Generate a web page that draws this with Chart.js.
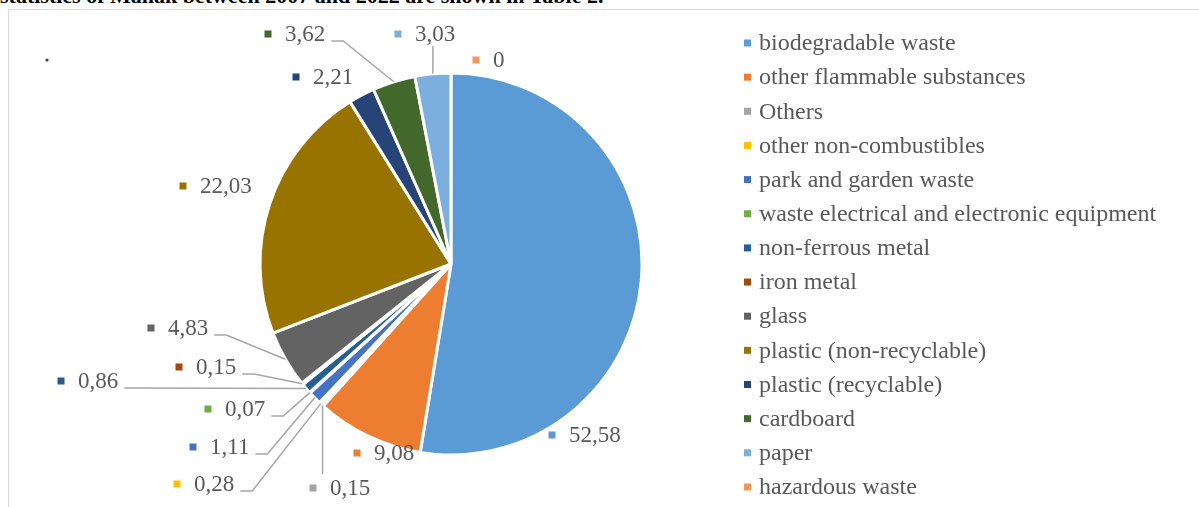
<!DOCTYPE html>
<html>
<head>
<meta charset="utf-8">
<title>Waste composition</title>
<script src="https://cdn.jsdelivr.net/npm/chart.js@4.4.1/dist/chart.umd.min.js"></script>
<style>
    html, body { margin: 0; padding: 0; background: #fff; overflow: hidden; }
    #wrap { position: relative; width: 1199px; height: 507px; overflow: hidden; }
    #caption { position: absolute; left: 0; top: -15px; font: bold 22px/22px "Liberation Serif", serif; color: #000; white-space: nowrap; }
    #frame { position: absolute; left: 8px; top: 8.5px; width: 1200px; height: 510px; border: 1.5px solid #d9d9d9; }
    #chart { position: absolute; left: 0; top: 0; }
</style>
</head>
<body>
<div id="wrap">
    <div id="caption">statistics of Manak between 2007 and 2022 are shown in Table 2.</div>
    <div id="frame"></div>
    <canvas id="chart" width="1199" height="507"></canvas>
</div>
<script>
// categorias de residuos (en el orden de las porciones, sentido horario desde arriba)
const categories = [
    "biodegradable waste",
    "other flammable substances",
    "Others",
    "other non-combustibles",
    "park and garden waste",
    "waste electrical and electronic equipment",
    "non-ferrous metal",
    "iron metal",
    "glass",
    "plastic (non-recyclable)",
    "plastic (recyclable)",
    "cardboard",
    "paper",
    "hazardous waste"
];

// porcentaje de cada categoria
const shares = [52.58, 9.08, 0.15, 0.28, 1.11, 0.07, 0.86, 0.15, 4.83, 22.03, 2.21, 3.62, 3.03, 0];

const sliceColors = [
    "#5B9BD5", "#ED7D31", "#A5A5A5", "#FFC000", "#4472C4", "#70AD47", "#255E91",
    "#9E480E", "#636363", "#997300", "#264478", "#43682B", "#7CAFDD", "#F1975A"
];

// etiquetas con coma decimal
const shareLabels = shares.map(v => v === 0 ? "0" : v.toFixed(2).replace(".", ","));

// posicion de cada etiqueta respecto al centro del pastel y tipo de linea guia
const labelSpots = [
    { dx: 101, dy: 171, lead: "none" },
    { dx: -94, dy: 189, lead: "none" },
    { dx: -138, dy: 224, lead: "vertical" },
    { dx: -274, dy: 220, lead: "elbow" },
    { dx: -258, dy: 183, lead: "elbow" },
    { dx: -243, dy: 145, lead: "elbow" },
    { dx: -390, dy: 117, lead: "elbow" },
    { dx: -272, dy: 103, lead: "elbow" },
    { dx: -300, dy: 64, lead: "elbow" },
    { dx: -268, dy: -78, lead: "none" },
    { dx: -155, dy: -187, lead: "none" },
    { dx: -183, dy: -230, lead: "elbow" },
    { dx: -53, dy: -230, lead: "vertical" },
    { dx: 25, dy: -204, lead: "none" }
];

const LABEL_FONT = '23px "Liberation Serif", "Times New Roman", serif';
const LEGEND_FONT = '24px "Liberation Serif", "Times New Roman", serif';
const TEXT_COLOR = "#595959";
const LEAD_COLOR = "#a6a6a6";

// Dibuja etiquetas, lineas guia y la leyenda a la derecha
const labelsPlugin = {
    id: "sliceLabels",
    afterDraw(chart) {
        const ctx = chart.ctx;
        const arcs = chart.getDatasetMeta(0).data;
        ctx.save();
        ctx.font = LABEL_FONT;
        ctx.textBaseline = "middle";
        ctx.textAlign = "left";

        arcs.forEach((arc, i) => {
            const spot = labelSpots[i];
            const cx = arc.x, cy = arc.y;
            const mx = cx + spot.dx, my = cy + spot.dy;
            const text = shareLabels[i];
            const tx = mx + 17;
            const tw = ctx.measureText(text).width;

            // punto en el borde exterior de la porcion
            const mid = (arc.startAngle + arc.endAngle) / 2;
            const ex = cx + Math.cos(mid) * arc.outerRadius;
            const ey = cy + Math.sin(mid) * arc.outerRadius;

            ctx.strokeStyle = LEAD_COLOR;
            ctx.lineWidth = 1.5;
            if (spot.lead === "elbow") {
                const sx = tx + tw + 6, sy = my + 7;
                ctx.beginPath();
                ctx.moveTo(sx, sy);
                ctx.lineTo(sx + 12, sy);
                ctx.lineTo(ex, ey);
                ctx.stroke();
            } else if (spot.lead === "vertical") {
                const endY = ey > my ? my + 12 : my - 14;
                ctx.beginPath();
                ctx.moveTo(ex, ey);
                ctx.lineTo(ex, endY);
                ctx.stroke();
            }

            ctx.fillStyle = sliceColors[i];
            ctx.fillRect(mx - 3.5, my - 3.5, 7, 7);
            ctx.fillStyle = TEXT_COLOR;
            ctx.fillText(text, tx, my + 1);
        });

        // leyenda
        ctx.font = LEGEND_FONT;
        categories.forEach((name, i) => {
            const y = 43 + i * 34.15;
            ctx.fillStyle = sliceColors[i];
            ctx.fillRect(744, y - 3.5, 7, 7);
            ctx.fillStyle = TEXT_COLOR;
            ctx.fillText(name, 759, y + 1);
        });

        // punto suelto en la esquina superior
        ctx.fillStyle = "#404040";
        ctx.beginPath();
        ctx.arc(47, 60, 1.6, 0, Math.PI * 2);
        ctx.fill();
        ctx.restore();
    }
};

const ctx = document.getElementById("chart").getContext("2d");
new Chart(ctx, {
    type: "pie",
    data: {
        labels: categories,
        datasets: [{
            data: shares,
            backgroundColor: sliceColors,
            borderColor: "#ffffff",
            borderWidth: 3
        }]
    },
    options: {
        responsive: false,
        animation: false,
        radius: 191,
        layout: { padding: { left: 258, right: 555, top: 71, bottom: 50 } },
        plugins: {
            legend: { display: false },
            tooltip: { enabled: false }
        }
    },
    plugins: [labelsPlugin]
});
</script>
</body>
</html>
